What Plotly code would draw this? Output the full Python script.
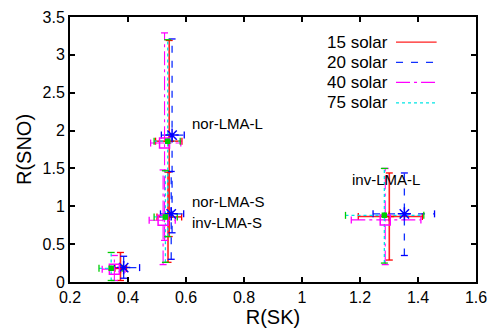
import plotly.graph_objects as go

# ---- data ----
scenarios = ["no osc", "LMA-S", "nor-LMA-L", "inv-LMA-L"]
series_names = ["15 solar", "20 solar", "40 solar", "75 solar"]

# central values R(SK), R(SNO) and error-bar ranges, per series (order of scenarios)
x15 = [0.374, 0.538, 0.542, 1.301]
y15 = [0.18, 0.86, 1.86, 0.866]
xlo15 = [0.355, 0.500, 0.495, 1.194]
xhi15 = [0.395, 0.585, 0.586, 1.415]
ylo15 = [0.02, 0.26, 0.60, 0.29]
yhi15 = [0.39, 1.45, 3.19, 1.44]

x20 = [0.385, 0.549, 0.552, 1.353]
y20 = [0.19, 0.90, 1.94, 0.90]
xlo20 = [0.353, 0.512, 0.515, 1.245]
xhi20 = [0.440, 0.592, 0.594, 1.457]
ylo20 = [0.05, 0.30, 0.65, 0.35]
yhi20 = [0.34, 1.46, 3.21, 1.44]

x40 = [0.353, 0.521, 0.526, 1.287]
y40 = [0.17, 0.815, 1.835, 0.82]
xlo40 = [0.311, 0.473, 0.478, 1.170]
xhi40 = [0.390, 0.563, 0.582, 1.410]
ylo40 = [0.02, 0.23, 0.55, 0.23]
yhi40 = [0.35, 1.48, 3.29, 1.50]

x75 = [0.342, 0.529, 0.537, 1.284]
y75 = [0.18, 0.86, 1.86, 0.88]
xlo75 = [0.300, 0.490, 0.490, 1.150]
xhi75 = [0.380, 0.570, 0.580, 1.420]
ylo75 = [0.02, 0.26, 0.60, 0.25]
yhi75 = [0.39, 1.47, 3.20, 1.50]

labels = ["no osc", "nor-LMA-S", "inv-LMA-S", "nor-LMA-L", "inv-LMA-L"]
label_x = [0.169, 0.615, 0.615, 0.615, 1.29]
label_y = [0.53, 1.06, 0.79, 2.09, 1.36]

x_ticks = [0.2, 0.4, 0.6, 0.8, 1.0, 1.2, 1.4, 1.6]
y_ticks = [0, 0.5, 1, 1.5, 2, 2.5, 3, 3.5]

data = [
    (x15, y15, xlo15, xhi15, ylo15, yhi15),
    (x20, y20, xlo20, xhi20, ylo20, yhi20),
    (x40, y40, xlo40, xhi40, ylo40, yhi40),
    (x75, y75, xlo75, xhi75, ylo75, yhi75),
]

# ---- styles ----
line_colors = ["#ff2020", "#1030ff", "#ff00ff", "#00e5e5"]
cap_colors = ["#ff0000", "#0000ff", "#ff00ff", "#00cc00"]
dashes = ["solid", "7px,8px", "14px,4px,3px,4px", "3px,3px"]
line_widths = [1.6, 1.3, 1.1, 1.3]
marker_sym = ["cross-thin-open", "asterisk-open", "square-open", "square"]
marker_size = [7, 11, 10, 4]
marker_col = ["#ff0000", "#0000ff", "#ff00ff", "#00cc00"]

FONT = "Liberation Sans, Arial, sans-serif"

fig = go.Figure()

for i, (xs, ys, xl, xh, yl, yh) in enumerate(data):
    vx, vy, hx, hy = [], [], [], []
    for k in range(len(xs)):
        vx += [xs[k], xs[k], None]
        vy += [yl[k], yh[k], None]
        hx += [xl[k], xh[k], None]
        hy += [ys[k], ys[k], None]
    fig.add_trace(go.Scatter(x=vx + hx, y=vy + hy, mode="lines",
                             line=dict(color=line_colors[i], width=line_widths[i], dash=dashes[i]),
                             showlegend=False, hoverinfo="skip"))
    # caps on vertical bars
    fig.add_trace(go.Scatter(x=xs + xs, y=yl + yh, mode="markers",
                             marker=dict(symbol="line-ew", size=5,
                                         line=dict(color=cap_colors[i], width=1.3)),
                             showlegend=False, hoverinfo="skip"))
    # caps on horizontal bars
    fig.add_trace(go.Scatter(x=xl + xh, y=ys + ys, mode="markers",
                             marker=dict(symbol="line-ns", size=5,
                                         line=dict(color=cap_colors[i], width=1.3)),
                             showlegend=False, hoverinfo="skip"))

for i, (xs, ys, xl, xh, yl, yh) in enumerate(data):
    fig.add_trace(go.Scatter(x=xs, y=ys, mode="markers", name=series_names[i],
                             marker=dict(symbol=marker_sym[i], size=marker_size[i],
                                         color=marker_col[i],
                                         line=dict(color=marker_col[i], width=1.5)),
                             showlegend=False))

annotations = []
for t, ax, ay in zip(labels, label_x, label_y):
    annotations.append(dict(x=ax, y=ay, xref="x", yref="y", text=t, showarrow=False,
                            xanchor="center" if t in ("no osc", "inv-LMA-L") else "left",
                            font=dict(family=FONT, size=15, color="black")))

# custom legend (text left of line sample)
leg_y = [0.905, 0.829, 0.753, 0.676]
shapes = []
for i, name in enumerate(series_names):
    annotations.append(dict(x=0.788, y=leg_y[i], xref="paper", yref="paper", text=name,
                            showarrow=False, xanchor="right", yanchor="middle",
                            font=dict(family=FONT, size=17, color="black")))
    shapes.append(dict(type="line", xref="paper", yref="paper", x0=0.803, x1=0.903,
                       y0=leg_y[i], y1=leg_y[i],
                       line=dict(color=line_colors[i], width=1.3, dash=dashes[i])))

axis_common = dict(showline=True, linecolor="black", linewidth=2, mirror="ticks",
                   ticks="inside", ticklen=5, tickwidth=1.5, tickcolor="black",
                   showgrid=False, zeroline=False,
                   tickfont=dict(family=FONT, size=16, color="black"))

fig.update_layout(
    width=496, height=333,
    margin=dict(l=70, r=15, t=9, b=49),
    paper_bgcolor="white", plot_bgcolor="white",
    xaxis=dict(range=[0.2, 1.6], tickvals=x_ticks,
               ticktext=[("%g" % v) for v in x_ticks],
               title=dict(text="R(SK)", font=dict(family=FONT, size=20, color="black"), standoff=4),
               **axis_common),
    yaxis=dict(range=[0, 3.5], tickvals=y_ticks,
               ticktext=[("%g" % v) for v in y_ticks],
               title=dict(text="R(SNO)", font=dict(family=FONT, size=20, color="black"), standoff=6),
               **axis_common),
    annotations=annotations, shapes=shapes, showlegend=False,
)

fig.write_html("out.html")
